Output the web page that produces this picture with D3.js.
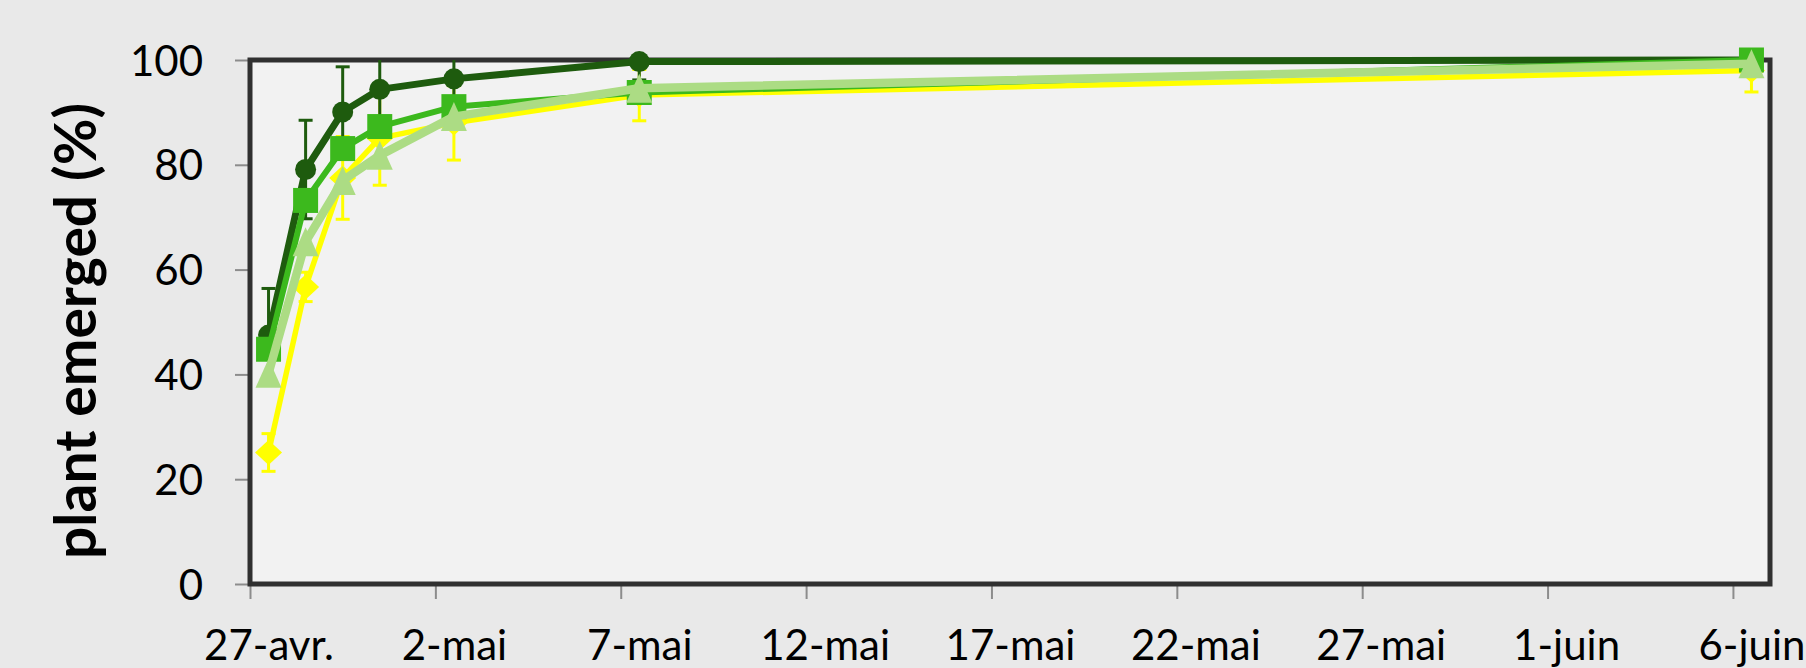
<!DOCTYPE html>
<html>
<head>
<meta charset="utf-8">
<script src="https://cdn.jsdelivr.net/npm/d3@7"></script>
<style>
  html, body { margin: 0; padding: 0; background: #e9e9e9; }
  svg { display: block; }
  text { font-family: Lato, "Noto Sans", sans-serif; fill: #000; }
</style>
</head>
<body>
<svg id="chart" width="1806" height="668"></svg>
<script>
// Observation dates (one reading per day)
const dates = ["2014-04-27", "2014-04-28", "2014-04-29", "2014-04-30", "2014-05-02", "2014-05-07", "2014-06-06"];

// Emergence (%) for each treatment
const seriesDark   = [47.5, 79.1, 90.1, 94.4, 96.4, 99.7, 100];
const seriesMedium = [44.8, 73.2, 83.1, 87.3, 91.1, 93.8, 100];
const seriesLight  = [40.2, 65.3, 77.0, 81.8, 89.2, 94.6, 99.3];
const seriesYellow = [25.1, 56.7, 77.5, 85.1, 88.0, 93.3, 98.0];

// Error bar half-widths (%)
const errDark   = [8.9, 9.4, 8.6, 6.0, 4.0, 3.5, 1.0];
const errYellow = [3.6, 2.8, 7.9, 9.0, 7.1, 4.9, 4.1];

// Axis ticks
const yTicks = [0, 20, 40, 60, 80, 100];
const xTickDates = ["2014-04-27", "2014-05-02", "2014-05-07", "2014-05-12", "2014-05-17", "2014-05-22", "2014-05-27", "2014-06-01", "2014-06-06"];
const xTickLabels = ["27-avr.", "2-mai", "7-mai", "12-mai", "17-mai", "22-mai", "27-mai", "1-juin", "6-juin"];
const xDomain = ["2014-04-27", "2014-06-07"];
const yTitle = "plant emerged (%)";

const parse = d3.timeParse("%Y-%m-%d");
const svg = d3.select("#chart");

const plot = { left: 250, right: 1770, top: 60, bottom: 584 };

const x = d3.scaleTime().domain(xDomain.map(parse)).range([plot.left, plot.right]);
const y = d3.scaleLinear().domain([0, 100]).range([plot.bottom, plot.top]);

// values sit in the middle of their day
const mid = d => d3.timeHour.offset(d, 12);
const halfDay = x(mid(parse(xDomain[0]))) - x(parse(xDomain[0]));

// plot background
svg.append("rect")
  .attr("x", plot.left).attr("y", plot.top)
  .attr("width", plot.right - plot.left).attr("height", plot.bottom - plot.top)
  .attr("fill", "#f2f2f2");

svg.append("clipPath").attr("id", "plotClip")
  .append("rect")
  .attr("x", plot.left).attr("y", plot.top)
  .attr("width", plot.right - plot.left).attr("height", plot.bottom - plot.top);

// y axis
const yAxis = svg.append("g")
  .attr("transform", `translate(${plot.left},0)`)
  .call(d3.axisLeft(y).tickValues(yTicks).tickSize(15).tickPadding(32));
yAxis.select(".domain").remove();
yAxis.selectAll("line").attr("stroke", "#8c8c8c").attr("stroke-width", 2);
yAxis.selectAll("text").attr("font-size", 42).attr("fill", "#000")
  .style("font-family", "Lato, sans-serif").attr("dy", "0.36em");

// x axis
const xAxis = svg.append("g")
  .attr("transform", `translate(0,${plot.bottom})`)
  .call(d3.axisBottom(x).tickValues(xTickDates.map(parse)).tickSize(15)
    .tickFormat((d, i) => xTickLabels[i]));
xAxis.select(".domain").remove();
xAxis.selectAll("line").attr("stroke", "#8c8c8c").attr("stroke-width", 2);
xAxis.selectAll("text").attr("font-size", 42).attr("fill", "#000")
  .style("font-family", "Lato, sans-serif")
  .attr("x", halfDay).attr("y", 76).attr("dy", 0);

// y axis title
svg.append("text")
  .attr("transform", `translate(96,331) rotate(-90)`)
  .attr("text-anchor", "middle")
  .attr("font-size", 57)
  .attr("font-weight", 700)
  .text(yTitle);

// series definitions: drawing order bottom to top
const pts = vals => vals.map((v, i) => ({ date: parse(dates[i]), v }));
const series = [
  { name: "yellow", color: "#ffff00", width: 5.5, values: seriesYellow, err: errYellow, marker: "diamond" },
  { name: "dark",   color: "#1e5b0e", width: 7,   values: seriesDark,   err: errDark,   marker: "circle" },
  { name: "medium", color: "#3cb91d", width: 6,   values: seriesMedium, err: null,      marker: "square" },
  { name: "light",  color: "#acdc84", width: 8.5, values: seriesLight,  err: null,      marker: "triangle" }
];

const line = d3.line().x(d => x(mid(d.date))).y(d => y(d.v));

const markerPath = {
  circle: "M0,-10.5A10.5,10.5 0 1,1 0,10.5A10.5,10.5 0 1,1 0,-10.5Z",
  square: "M-12.5,-12.5H12.5V12.5H-12.5Z",
  triangle: "M0,-14.5L13,14.5L-13,14.5Z",
  diamond: "M0,-12.5L13.5,0L0,12.5L-13.5,0Z"
};

series.forEach(s => {
  const data = pts(s.values);
  const g = svg.append("g").attr("class", "series-" + s.name);

  if (s.err) {
    const eb = g.append("g").attr("clip-path", "url(#plotClip)")
      .attr("stroke", s.color).attr("stroke-width", 3);
    data.forEach((d, i) => {
      const e = s.err[i];
      if (!e) return;
      const cx = x(mid(d.date));
      const y0 = y(d.v - e), y1 = y(d.v + e);
      eb.append("line").attr("x1", cx).attr("x2", cx).attr("y1", y0).attr("y2", y1);
      eb.append("line").attr("x1", cx - 7).attr("x2", cx + 7).attr("y1", y0).attr("y2", y0);
      eb.append("line").attr("x1", cx - 7).attr("x2", cx + 7).attr("y1", y1).attr("y2", y1);
    });
  }

  g.append("path").datum(data)
    .attr("d", line)
    .attr("fill", "none")
    .attr("stroke", s.color)
    .attr("stroke-width", s.width)
    .attr("stroke-linejoin", "round");

  g.selectAll("path.marker").data(data).join("path")
    .attr("class", "marker")
    .attr("d", markerPath[s.marker])
    .attr("transform", d => `translate(${x(mid(d.date))},${y(d.v)})`)
    .attr("fill", s.color);
});

// plot frame
svg.append("rect")
  .attr("x", plot.left).attr("y", plot.top)
  .attr("width", plot.right - plot.left).attr("height", plot.bottom - plot.top)
  .attr("fill", "none")
  .attr("stroke", "#303030")
  .attr("stroke-width", 5);

// series sit above the frame, so markers on the edge overlap it
svg.selectAll("g[class^='series-']").raise();
</script>
</body>
</html>
